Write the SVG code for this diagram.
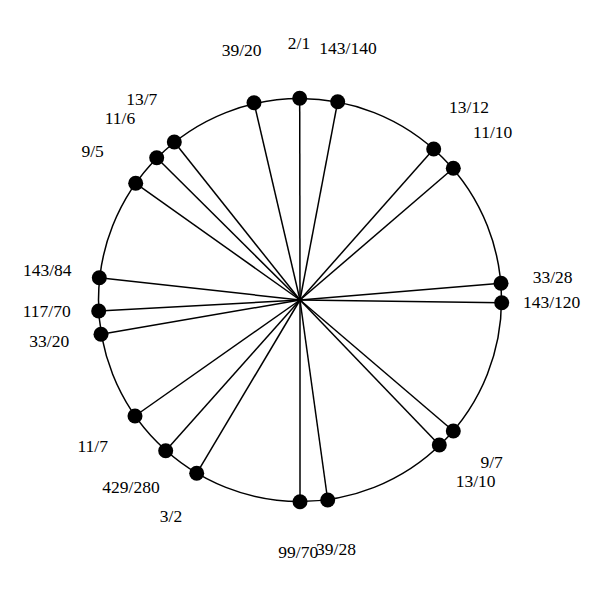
<svg xmlns="http://www.w3.org/2000/svg" width="600" height="600" viewBox="0 0 600 600">
<style>
.ln{stroke:#000;stroke-width:1.5;fill:none}
.dot{fill:#000}
text{font-family:"Liberation Serif","Times New Roman",serif;font-size:17.5px;fill:#000;text-anchor:middle}
</style>
<rect width="600" height="600" fill="#fff"/>
<circle class="ln" cx="300" cy="300" r="201.5"/>
<g id="connectors">
<line class="ln" x1="300" y1="300" x2="299.7" y2="98.3"/>
<line class="ln" x1="300" y1="300" x2="337.7" y2="101.7"/>
<line class="ln" x1="300" y1="300" x2="254" y2="102.7"/>
<line class="ln" x1="300" y1="300" x2="433.7" y2="149"/>
<line class="ln" x1="300" y1="300" x2="453.3" y2="168.3"/>
<line class="ln" x1="300" y1="300" x2="174.3" y2="142"/>
<line class="ln" x1="300" y1="300" x2="156.7" y2="157.7"/>
<line class="ln" x1="300" y1="300" x2="135.7" y2="183.3"/>
<line class="ln" x1="300" y1="300" x2="501" y2="283.3"/>
<line class="ln" x1="300" y1="300" x2="501.7" y2="302.7"/>
<line class="ln" x1="300" y1="300" x2="99.3" y2="277.7"/>
<line class="ln" x1="300" y1="300" x2="98.7" y2="311"/>
<line class="ln" x1="300" y1="300" x2="101" y2="334.3"/>
<line class="ln" x1="300" y1="300" x2="453.3" y2="431"/>
<line class="ln" x1="300" y1="300" x2="439.3" y2="445"/>
<line class="ln" x1="300" y1="300" x2="135" y2="416"/>
<line class="ln" x1="300" y1="300" x2="165.7" y2="450.7"/>
<line class="ln" x1="300" y1="300" x2="196.7" y2="473.3"/>
<line class="ln" x1="300" y1="300" x2="300" y2="501.7"/>
<line class="ln" x1="300" y1="300" x2="327.7" y2="500"/>
</g>
<g id="n-2-1"><circle class="dot" cx="299.7" cy="98.3" r="7.5"/><text x="299" y="49.3">2/1</text></g>
<g id="n-143-140"><circle class="dot" cx="337.7" cy="101.7" r="7.5"/><text x="348" y="54">143/140</text></g>
<g id="n-39-20"><circle class="dot" cx="254" cy="102.7" r="7.5"/><text x="241.7" y="56">39/20</text></g>
<g id="n-13-12"><circle class="dot" cx="433.7" cy="149" r="7.5"/><text x="469" y="113.3">13/12</text></g>
<g id="n-11-10"><circle class="dot" cx="453.3" cy="168.3" r="7.5"/><text x="492.7" y="138.3">11/10</text></g>
<g id="n-13-7"><circle class="dot" cx="174.3" cy="142" r="7.5"/><text x="141.7" y="105.3">13/7</text></g>
<g id="n-11-6"><circle class="dot" cx="156.7" cy="157.7" r="7.5"/><text x="120" y="124.3">11/6</text></g>
<g id="n-9-5"><circle class="dot" cx="135.7" cy="183.3" r="7.5"/><text x="92.7" y="156.7">9/5</text></g>
<g id="n-33-28"><circle class="dot" cx="501" cy="283.3" r="7.5"/><text x="552.7" y="283.3">33/28</text></g>
<g id="n-143-120"><circle class="dot" cx="501.7" cy="302.7" r="7.5"/><text x="551.7" y="308.3">143/120</text></g>
<g id="n-143-84"><circle class="dot" cx="99.3" cy="277.7" r="7.5"/><text x="47.3" y="276">143/84</text></g>
<g id="n-117-70"><circle class="dot" cx="98.7" cy="311" r="7.5"/><text x="46.7" y="316.7">117/70</text></g>
<g id="n-33-20"><circle class="dot" cx="101" cy="334.3" r="7.5"/><text x="49.3" y="346.7">33/20</text></g>
<g id="n-9-7"><circle class="dot" cx="453.3" cy="431" r="7.5"/><text x="491.7" y="468.3">9/7</text></g>
<g id="n-13-10"><circle class="dot" cx="439.3" cy="445" r="7.5"/><text x="475.7" y="487.3">13/10</text></g>
<g id="n-11-7"><circle class="dot" cx="135" cy="416" r="7.5"/><text x="92.7" y="451.7">11/7</text></g>
<g id="n-429-280"><circle class="dot" cx="165.7" cy="450.7" r="7.5"/><text x="131" y="492.7">429/280</text></g>
<g id="n-3-2"><circle class="dot" cx="196.7" cy="473.3" r="7.5"/><text x="171" y="522.3">3/2</text></g>
<g id="n-99-70"><circle class="dot" cx="300" cy="501.7" r="7.5"/><text x="298.3" y="558.3">99/70</text></g>
<g id="n-39-28"><circle class="dot" cx="327.7" cy="500" r="7.5"/><text x="336" y="555">39/28</text></g>
</svg>
